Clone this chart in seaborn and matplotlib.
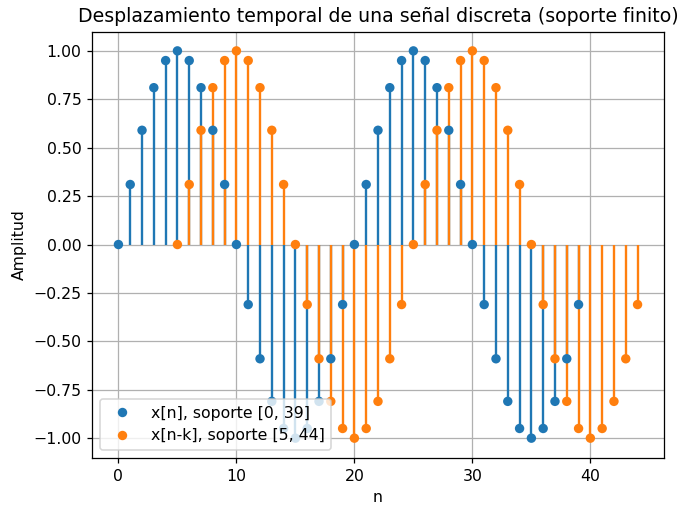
import matplotlib
matplotlib.use("Agg")
import matplotlib.pyplot as plt
import seaborn as sns
import pandas as pd

n_orig = list(range(0, 40))
x_orig = [0.00, 0.31, 0.59, 0.81, 0.95, 1.00, 0.95, 0.81, 0.59, 0.31,
          0.00, -0.31, -0.59, -0.81, -0.95, -1.00, -0.95, -0.81, -0.59, -0.31,
          0.00, 0.31, 0.59, 0.81, 0.95, 1.00, 0.95, 0.81, 0.59, 0.31,
          0.00, -0.31, -0.59, -0.81, -0.95, -1.00, -0.95, -0.81, -0.59, -0.31]
n_shift = list(range(5, 45))
x_shift = list(x_orig)

label_orig = "x[n], soporte [0, 39]"
label_shift = "x[n-k], soporte [5, 44]"
color_orig = "#1f77b4"
color_shift = "#ff7f0e"

df = pd.DataFrame({
    "n": n_orig + n_shift,
    "amp": x_orig + x_shift,
    "serie": [label_orig] * len(n_orig) + [label_shift] * len(n_shift),
})

DPI = 113
fig, ax = plt.subplots(figsize=(682 / DPI, 506 / DPI), dpi=DPI)
fig.subplots_adjust(left=0.1356, right=0.9729, top=0.9377, bottom=0.0958)

ax.vlines(n_orig, 0, x_orig, colors=color_orig, linewidth=1.5)
ax.vlines(n_shift, 0, x_shift, colors=color_shift, linewidth=1.5)
sns.scatterplot(data=df, x="n", y="amp", hue="serie",
                palette={label_orig: color_orig, label_shift: color_shift},
                s=36, linewidth=0, ax=ax, zorder=3)

ax.grid(True)
ax.set_title("Desplazamiento temporal de una señal discreta (soporte finito)")
ax.set_xlabel("n")
ax.set_ylabel("Amplitud")
ax.legend(loc="lower left", title=None)
fig.savefig("out.png", dpi=DPI)
